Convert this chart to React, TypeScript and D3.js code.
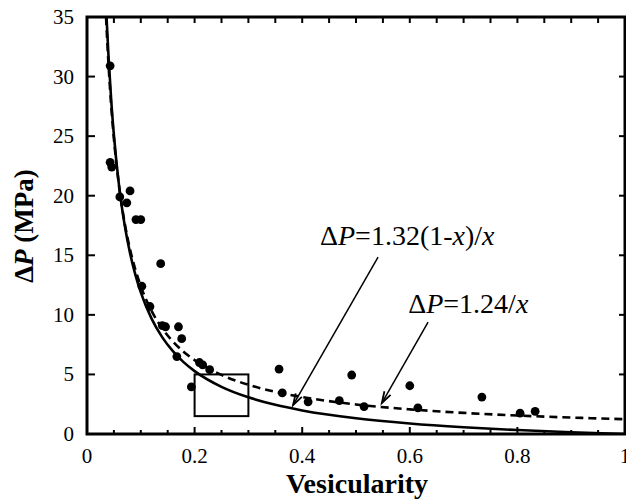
import React from "react";
import * as d3 from "d3";

// Measured data points (vesicularity, ΔP in MPa)
const pointX = [0.043, 0.043, 0.046, 0.061, 0.074, 0.080, 0.091, 0.100, 0.102, 0.117, 0.137, 0.140, 0.146, 0.170, 0.176, 0.167, 0.194, 0.209, 0.215, 0.228, 0.357, 0.363, 0.411, 0.469, 0.492, 0.515, 0.600, 0.615, 0.734, 0.805, 0.833];
const pointY = [30.9, 22.8, 22.4, 19.9, 19.4, 20.4, 18.0, 18.0, 12.4, 10.7, 14.3, 9.1, 9.0, 9.0, 8.0, 6.5, 3.95, 6.0, 5.8, 5.4, 5.45, 3.45, 2.7, 2.8, 4.95, 2.3, 4.05, 2.2, 3.1, 1.75, 1.9];

// Curve ΔP = 1.32(1-x)/x (solid)
const solidX = [0.0363, 0.04, 0.045, 0.05, 0.06, 0.07, 0.08, 0.09, 0.1, 0.12, 0.14, 0.16, 0.18, 0.2, 0.25, 0.3, 0.35, 0.4, 0.5, 0.6, 0.7, 0.8, 0.9, 1.0];
const solidY = [35.0, 31.68, 28.01, 25.08, 20.68, 17.54, 15.18, 13.35, 11.88, 9.68, 8.11, 6.93, 6.01, 5.28, 3.96, 3.08, 2.45, 1.98, 1.32, 0.88, 0.566, 0.33, 0.147, 0.0];

// Curve ΔP = 1.24/x (dashed)
const dashX = [0.0354, 0.04, 0.045, 0.05, 0.06, 0.07, 0.08, 0.09, 0.1, 0.12, 0.14, 0.16, 0.18, 0.2, 0.25, 0.3, 0.35, 0.4, 0.5, 0.6, 0.7, 0.8, 0.9, 1.0];
const dashY = [35.0, 31.0, 27.56, 24.8, 20.67, 17.71, 15.5, 13.78, 12.4, 10.33, 8.86, 7.75, 6.89, 6.2, 4.96, 4.13, 3.54, 3.1, 2.48, 2.07, 1.77, 1.55, 1.38, 1.24];

const xTickLabels = [0, 0.2, 0.4, 0.6, 0.8, 1];
const yTickLabels = [0, 5, 10, 15, 20, 25, 30, 35];
const xMinorTicks = [0.05, 0.1, 0.15, 0.25, 0.3, 0.35, 0.45, 0.5, 0.55, 0.65, 0.7, 0.75, 0.85, 0.9, 0.95];

// Box highlight (x0, x1, y0, y1)
const boxX = [0.2, 0.3];
const boxY = [1.5, 5.0];

// Annotations
const labels = [
  { text: "1.32(1-", italicX: true, x: 0.433, y: 15.9 },
  { text: "1.24/", italicX: false, x: 0.597, y: 10.15 },
];
const arrowFrom = [[0.541, 14.85], [0.634, 9.4]];
const arrowTo = [[0.383, 2.43], [0.548, 2.6]];

const W = 626;
const H = 504;
const left = 87, right = 625, top = 17, bottom = 434;
const FONT = '"Liberation Serif", "Times New Roman", Times, serif';

export default function App() {
  const x = d3.scaleLinear().domain([0, 1]).range([left, right]);
  const y = d3.scaleLinear().domain([0, 35]).range([bottom, top]);

  const line = d3
    .line<[number, number]>()
    .x((d) => x(d[0]))
    .y((d) => y(d[1]))
    .curve(d3.curveMonotoneX);

  const solidPath = line(solidX.map((v, i) => [v, solidY[i]] as [number, number])) || "";
  const dashPath = line(dashX.map((v, i) => [v, dashY[i]] as [number, number])) || "";

  const arrowHead = (fx: number, fy: number, tx: number, ty: number) => {
    const x1 = x(fx), y1 = y(fy), x2 = x(tx), y2 = y(ty);
    const ang = Math.atan2(y2 - y1, x2 - x1);
    const len = 12, spread = 0.3;
    const a = [x2 - len * Math.cos(ang - spread), y2 - len * Math.sin(ang - spread)];
    const b = [x2 - len * Math.cos(ang + spread), y2 - len * Math.sin(ang + spread)];
    return `M${a[0]},${a[1]}L${x2},${y2}L${b[0]},${b[1]}`;
  };

  const ts = { fontFamily: FONT };

  return (
    <svg
      width={W}
      height={H}
      style={{ position: "absolute", left: 0, top: 0, background: "#fff", fontFamily: FONT }}
    >
      <defs>
        <clipPath id="plotClip">
          <rect x={left} y={top} width={right - left} height={bottom - top} />
        </clipPath>
      </defs>

      <g clipPath="url(#plotClip)">
        <path d={dashPath} fill="none" stroke="#000" strokeWidth={2.6} strokeDasharray="8,5" />
        <path d={solidPath} fill="none" stroke="#000" strokeWidth={2.6} />
      </g>

      {pointX.map((v, i) => (
        <circle key={i} cx={x(v)} cy={y(pointY[i])} r={4.4} fill="#000" />
      ))}

      <rect
        x={x(boxX[0])}
        y={y(boxY[1])}
        width={x(boxX[1]) - x(boxX[0])}
        height={y(boxY[0]) - y(boxY[1])}
        fill="none"
        stroke="#000"
        strokeWidth={2}
      />

      {arrowFrom.map((f, i) => (
        <g key={i} stroke="#000" fill="none" strokeWidth={1.5}>
          <line x1={x(f[0])} y1={y(f[1])} x2={x(arrowTo[i][0])} y2={y(arrowTo[i][1])} />
          <path d={arrowHead(f[0], f[1], arrowTo[i][0], arrowTo[i][1])} strokeWidth={1.8} />
        </g>
      ))}

      {labels.map((l, i) => (
        <text key={i} x={x(l.x)} y={y(l.y)} fontSize={28} fill="#000" style={ts}>
          Δ<tspan fontStyle="italic">P</tspan>={l.text}
          {l.italicX ? (
            <>
              <tspan fontStyle="italic">x</tspan>)/<tspan fontStyle="italic">x</tspan>
            </>
          ) : (
            <tspan fontStyle="italic">x</tspan>
          )}
        </text>
      ))}

      <rect x={left} y={top} width={right - left} height={bottom - top} fill="none" stroke="#000" strokeWidth={3} />

      {xTickLabels.map((t) => (
        <g key={"xt" + t}>
          <line x1={x(t)} x2={x(t)} y1={bottom} y2={bottom - 7} stroke="#000" strokeWidth={2} />
          <line x1={x(t)} x2={x(t)} y1={top} y2={top + 6} stroke="#000" strokeWidth={2} />
          <text x={x(t)} y={463} fontSize={21} textAnchor="middle" fill="#000" style={ts}>
            {t}
          </text>
        </g>
      ))}
      {xMinorTicks.map((t) => (
        <g key={"xm" + t}>
          <line x1={x(t)} x2={x(t)} y1={bottom} y2={bottom - 4} stroke="#000" strokeWidth={2} />
          <line x1={x(t)} x2={x(t)} y1={top} y2={top + 6} stroke="#000" strokeWidth={2} />
        </g>
      ))}

      {yTickLabels.map((t) => (
        <g key={"yt" + t}>
          <line x1={left} x2={left + 8} y1={y(t)} y2={y(t)} stroke="#000" strokeWidth={2} />
          <line x1={right} x2={right - 6} y1={y(t)} y2={y(t)} stroke="#000" strokeWidth={2} />
          <text x={74} y={y(t) + 7} fontSize={21} textAnchor="end" fill="#000" style={ts}>
            {t}
          </text>
        </g>
      ))}

      <text x={357} y={493} fontSize={28} fontWeight="bold" textAnchor="middle" fill="#000" style={ts}>
        Vesicularity
      </text>
      <text
        transform={`translate(33,226) rotate(-90)`}
        fontSize={27}
        fontWeight="bold"
        textAnchor="middle"
        fill="#000"
        style={ts}
      >
        Δ<tspan fontStyle="italic">P</tspan> (MPa)
      </text>
    </svg>
  );
}
